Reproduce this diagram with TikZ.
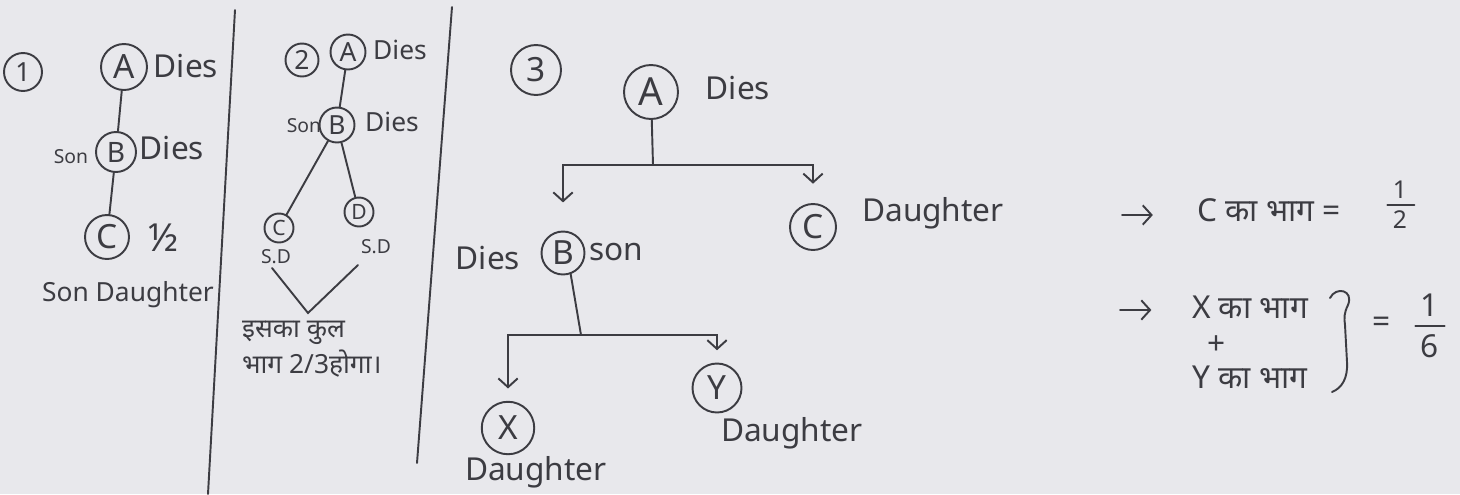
\documentclass[tikz,border=0pt]{standalone}
\usepackage{fontspec}
\setmainfont{Noto Sans}
\newfontfamily\hindi[Script=Devanagari]{Noto Sans}
\usetikzlibrary{arrows.meta, positioning}
\definecolor{ink}{HTML}{3C3C42}
\definecolor{paper}{HTML}{E8E8EC}
\tikzset{
  pers/.style={circle, draw=ink, line width=1.1pt, inner sep=0pt, font=\fontsize{19}{22}\selectfont},
  num/.style={pers, font=\fontsize{15}{18}\selectfont},
  lbl/.style={font=\fontsize{18}{21}\selectfont, inner sep=1pt},
  mid/.style={font=\fontsize{15}{18}\selectfont, inner sep=1pt},
  sml/.style={font=\fontsize{11}{13}\selectfont, inner sep=1pt},
  hin/.style={font=\hindi\fontsize{15}{18}\selectfont, inner sep=1pt, anchor=west},
  fracn/.style={align=center, inner sep=0pt, font=\fontsize{#1}{#1}\selectfont},
  link/.style={draw=ink, line width=1.1pt, line cap=round},
  arrow/.style={link, -{Straight Barb[length=5pt, width=11pt]}},
}

\begin{document}
\begin{tikzpicture}[x=0.02cm, y=-0.02cm, color=ink]
  \useasboundingbox (0,0) rectangle (1460,494);
  \fill[paper] (0,0) rectangle (1460,494);
  % case 1
  \node[num, minimum size=0.76cm] (no1) at (23,72) {1};
  \node[pers, minimum size=0.92cm] (a1) at (124,67) {A};
  \node[lbl] (a1l) at (186,66) {Dies};
  \node[pers, minimum size=0.8cm, font=\fontsize{16}{19}\selectfont] (b1) at (116,152) {B};
  \node[sml] (b1s) at (71,157) {Son};
  \node[lbl] (b1l) at (172,148) {Dies};
  \node[pers, minimum size=0.88cm] (c1) at (107,237) {C};
  \node[lbl, font=\fontsize{22}{24}\selectfont] (c1f) at (163,238) {½};
  \node[mid] (c1l) at (128,295) {Son Daughter};
  \draw[link] (a1) -- (b1);
  \draw[link] (b1) -- (c1);
  \coordinate (d1t) at (235,10);
  \coordinate (d1b) at (208,494);
  \draw[link] (d1t) -- (d1b);
  % case 2
  \node[num, minimum size=0.66cm] (no2) at (302,60) {2};
  \node[num, minimum size=0.7cm] (a2) at (348,52) {A};
  \node[mid] (a2l) at (400,50) {Dies};
  \node[num, minimum size=0.7cm] (b2) at (337,125) {B};
  \node[sml] (b2s) at (304,126) {Son};
  \node[mid] (b2l) at (392,122) {Dies};
  \node[num, minimum size=0.58cm, font=\fontsize{12}{14}\selectfont] (c2) at (279,228) {C};
  \node[num, minimum size=0.58cm, font=\fontsize{12}{14}\selectfont] (d2) at (359,212) {D};
  \node[sml] (c2l) at (276,257) {S.D};
  \node[sml] (d2l) at (376,247) {S.D};
  \draw[link] (a2) -- (b2);
  \draw[link] (b2) -- (c2);
  \draw[link] (b2) -- (d2);
  \coordinate (vl) at (272,268);
  \coordinate (vb) at (308,313);
  \coordinate (vr) at (358,265);
  \draw[link] (vl) -- (vb) -- (vr);
  \node[hin] (h1) at (240,333) {इसका कुल};
  \node[hin] (h2) at (240,364) {भाग 2/3होगा।};
  \coordinate (d2t) at (452,7);
  \coordinate (d2b) at (417,463);
  \draw[link] (d2t) -- (d2b);
  % case 3
  \node[pers, minimum size=1.0cm] (no3) at (536,70) {3};
  \node[pers, minimum size=1.08cm, font=\fontsize{22}{24}\selectfont] (a3) at (651,92) {A};
  \node[lbl] (a3l) at (738,88) {Dies};
  \node[pers, minimum size=0.86cm] (b3) at (563,253) {B};
  \node[lbl] (b3l) at (488,258) {Dies};
  \node[lbl] (b3s) at (616,252) {son};
  \node[pers, minimum size=0.92cm] (c3) at (813,227) {C};
  \node[lbl] (c3l) at (933,213) {Daughter};
  \node[pers, minimum size=1.05cm] (x3) at (508,428) {X};
  \node[lbl] (x3l) at (536,472) {Daughter};
  \node[pers, minimum size=0.98cm] (y3) at (717,388) {Y};
  \node[lbl] (y3l) at (792,433) {Daughter};
  \coordinate (j1) at (653,165);
  \coordinate (j2) at (581,335);
  \draw[link] (a3) -- (j1);
  \draw[arrow, shorten >=16pt] (j1) -| (b3);
  \draw[arrow, shorten >=11pt] (j1) -| (c3);
  \draw[link] (b3.290) -- (j2);
  \draw[arrow, shorten >=7pt] (j2) -| (x3);
  \draw[arrow, shorten >=7pt] (j2) -| (y3);
  % shares
  \coordinate (p1) at (1122,215);
  \coordinate (p2) at (1120,310);
  \node[lbl, anchor=west] (cpart) at (1195,210) {C {\hindi का भाग} =};
  \node[fracn=14] (chalf) at (1400,205) {1\\[3pt]2};
  \node[lbl] (xpart) at (1250,307) {X {\hindi का भाग}};
  \node[lbl] (plus) at (1217,345) {+};
  \node[lbl] (ypart) at (1250,377) {Y {\hindi का भाग}};
  \node[lbl] (eq2) at (1382,325) {=};
  \node[fracn=18] (sixth) at (1430,326) {1\\[5pt]6};
  \draw[link] ([xshift=-3pt]chalf.west) -- ([xshift=4pt]chalf.east);
  \draw[link] ([xshift=-3pt]sixth.west) -- ([xshift=3pt]sixth.east);
  \draw[arrow, shorten >=24pt] (p1) -- (p1 -| cpart.west);
  \draw[arrow, shorten >=22pt] (p2) -- (p2 -| xpart.west);
  \draw[link] (1330,298) .. controls (1336,286) and (1354,290) .. (1348,305)
    .. controls (1344,313) and (1344,318) .. (1345,325) -- (1347,362)
    .. controls (1348,378) and (1342,388) .. (1332,392);
\end{tikzpicture}
\end{document}
